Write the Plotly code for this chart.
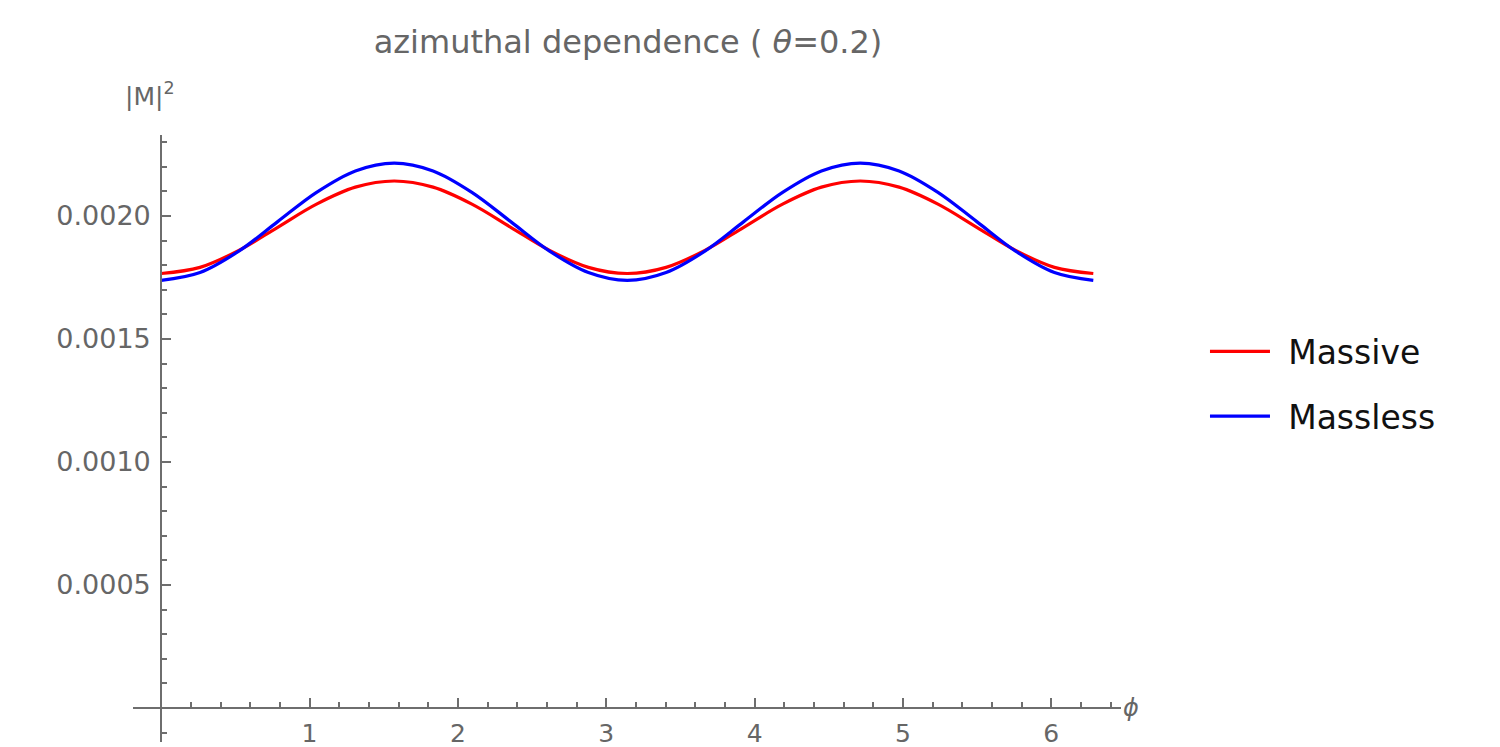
import plotly.graph_objects as go

phi = [0, 0.2618, 0.5236, 0.7854, 1.0472, 1.3090, 1.5708, 1.8326, 2.0944, 2.3562,
       2.6180, 2.8798, 3.1416, 3.4034, 3.6652, 3.9270, 4.1888, 4.4506, 4.7124,
       4.9742, 5.2360, 5.4978, 5.7596, 6.0214, 6.2832]
massive = [0.001766, 0.001791, 0.001860, 0.001954, 0.002048, 0.002117, 0.002142,
           0.002117, 0.002048, 0.001954, 0.001860, 0.001791, 0.001766,
           0.001791, 0.001860, 0.001954, 0.002048, 0.002117, 0.002142,
           0.002117, 0.002048, 0.001954, 0.001860, 0.001791, 0.001766]
massless = [0.001738, 0.001770, 0.001857, 0.001977, 0.002096, 0.002183, 0.002215,
            0.002183, 0.002096, 0.001977, 0.001857, 0.001770, 0.001738,
            0.001770, 0.001857, 0.001977, 0.002096, 0.002183, 0.002215,
            0.002183, 0.002096, 0.001977, 0.001857, 0.001770, 0.001738]
x_ticks = [1, 2, 3, 4, 5, 6]
y_ticks = [0.0005, 0.0010, 0.0015, 0.0020]
y_tick_text = ["0.0005", "0.0010", "0.0015", "0.0020"]

x_range = [-0.19, 6.47]
y_range = [-0.000138, 0.002329]

FONT = "DejaVu Sans"
AX = "#6e6e6e"
TXT = "#666666"

fig = go.Figure()
fig.add_trace(go.Scatter(x=phi, y=massive, mode="lines", name="\u2009\u2009Massive",
                         line=dict(color="#ff0000", width=3.2, shape="spline"),
                         legendgroup="a"))
fig.add_trace(go.Scatter(x=phi, y=massless, mode="lines", name="\u2009\u2009Massless",
                         line=dict(color="#0000ff", width=3.2, shape="spline"),
                         legendgroup="b"))

xpos = (0 - y_range[0]) / (y_range[1] - y_range[0])
ypos = (0 - x_range[0]) / (x_range[1] - x_range[0])

fig.update_layout(
    width=1500, height=747,
    margin=dict(l=133, r=379, t=135, b=5, autoexpand=False),
    paper_bgcolor="white", plot_bgcolor="white",
    font=dict(family=FONT, color=TXT),
    title=dict(text="azimuthal dependence ( <i>θ</i>=0.2)", x=628 / 1500, xanchor="center",
               y=1 - 42 / 747, yanchor="middle", yref="container",
               font=dict(size=32, color=TXT, family=FONT)),
    xaxis=dict(range=x_range, anchor="free", position=xpos, showgrid=False,
               zeroline=False, showline=True, linecolor=AX, linewidth=2,
               automargin=False,
               tickvals=x_ticks, ticks="inside", ticklen=9, tickwidth=2, tickcolor=AX,
               ticklabelstandoff=3,
               tickfont=dict(size=25, color=TXT, family=FONT),
               minor=dict(dtick=0.2, tick0=0, ticks="inside", ticklen=5, tickwidth=2,
                          tickcolor=AX, showgrid=False)),
    yaxis=dict(range=y_range, anchor="free", position=ypos, showgrid=False,
               zeroline=False, showline=True, linecolor=AX, linewidth=2,
               automargin=False,
               tickvals=y_ticks, ticktext=y_tick_text, ticks="inside", ticklen=9,
               tickwidth=2, tickcolor=AX, ticklabelstandoff=4,
               tickfont=dict(size=27, color=TXT, family=FONT),
               minor=dict(dtick=0.0001, tick0=0, ticks="inside", ticklen=5, tickwidth=2,
                          tickcolor=AX, showgrid=False)),
    legend=dict(x=1.085, y=0.59, xanchor="left", yanchor="middle",
                font=dict(size=33, color="#111111", family=FONT),
                itemwidth=60, tracegroupgap=19, bgcolor="rgba(0,0,0,0)"),
    annotations=[
        dict(text="|M|<sup>2</sup>", x=0.0, y=1.0, xref="paper", yref="paper",
             xanchor="left", yanchor="bottom", xshift=-10, yshift=22, showarrow=False,
             font=dict(size=25, color=TXT, family=FONT)),
        dict(text="<i>ϕ</i>", x=1.0, y=xpos, xref="paper", yref="paper",
             xanchor="left", yanchor="middle", xshift=0, showarrow=False,
             font=dict(size=24, color=TXT, family=FONT)),
    ],
)

fig.write_html("out.html", config={"displayModeBar": False},
               post_script="document.body.style.margin='0';")
